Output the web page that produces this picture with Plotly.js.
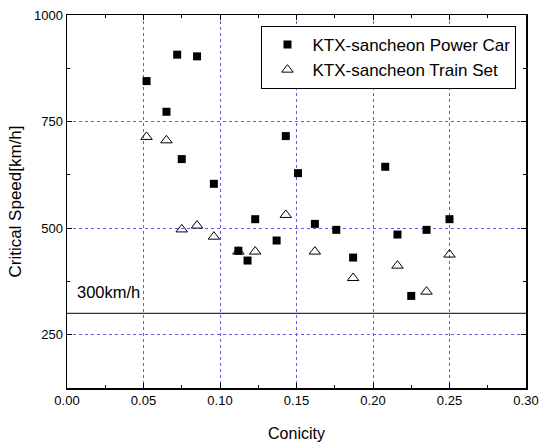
<!DOCTYPE html>
<html>
<head>
<meta charset="utf-8">
<script src="https://cdn.plot.ly/plotly-3.0.1.min.js"></script>
<style>html,body{margin:0;padding:0;background:#fff;}#chart{width:540px;height:442px;}</style>
</head>
<body>
<div id="chart"></div>
<script>
// Power car data
const powerConicity = [0.052, 0.065, 0.072, 0.075, 0.085, 0.096, 0.112, 0.118, 0.123, 0.137, 0.143, 0.151, 0.162, 0.176, 0.187, 0.208, 0.216, 0.225, 0.235, 0.250];
const powerSpeed    = [845, 773, 907, 662, 903, 604, 447, 424, 521, 471, 716, 629, 510, 496, 431, 644, 485, 341, 496, 521];
// Train set data
const trainConicity = [0.052, 0.065, 0.075, 0.085, 0.096, 0.112, 0.123, 0.143, 0.162, 0.187, 0.216, 0.235, 0.250];
const trainSpeed    = [714, 706, 497, 506, 480, 445, 445, 531, 445, 383, 412, 351, 438];
const seriesNames = ["KTX-sancheon Power Car", "KTX-sancheon Train Set"];
const limitSpeed = 300;
const limitLabel = "300km/h";
const xTitle = "Conicity";
const yTitle = "Critical Speed[km/h]";

const FONT = "'Liberation Sans', Arial, sans-serif";

const traces = [
  {x: powerConicity, y: powerSpeed, name: seriesNames[0], type: 'scatter', mode: 'markers',
   marker: {symbol: 'square', size: 8, color: '#000'}},
  {x: trainConicity, y: trainSpeed, name: seriesNames[1], type: 'scatter', mode: 'markers',
   marker: {symbol: 'triangle-up-open', size: 10, color: '#000', line: {width: 1, color: '#000'}}}
];

const gridStyle = {showgrid: true, gridcolor: '#5a5aff', gridwidth: 1, griddash: 'dot'};

const layout = {
  width: 540, height: 442,
  margin: {l: 67, r: 14, t: 15, b: 54},
  paper_bgcolor: '#fff', plot_bgcolor: '#fff',
  font: {family: FONT, color: '#000', size: 13},
  showlegend: true,
  legend: {x: 0.4237, y: 0.9705, xanchor: 'left', yanchor: 'top', bgcolor: '#fff',
           bordercolor: '#000', borderwidth: 1, font: {size: 17, family: FONT}, itemwidth: 40},
  xaxis: Object.assign({
    range: [0, 0.30], tick0: 0, dtick: 0.05, tickformat: '.2f',
    ticks: 'inside', ticklen: 5, tickwidth: 1, tickcolor: '#000',
    showline: true, linecolor: '#000', linewidth: 1.5, mirror: 'ticks', zeroline: false,
    minor: {dtick: 0.025, ticks: 'inside', ticklen: 3, tickcolor: '#000', showgrid: false},
    title: {text: xTitle, font: {size: 16, family: FONT}, standoff: 20},
    tickfont: {size: 13, family: FONT}
  }, gridStyle),
  yaxis: Object.assign({
    range: [125, 1000], tick0: 0, dtick: 250,
    ticks: 'inside', ticklen: 5, tickwidth: 1, tickcolor: '#000',
    showline: true, linecolor: '#000', linewidth: 1.5, mirror: 'ticks', zeroline: false,
    minor: {dtick: 125, ticks: 'inside', ticklen: 3, tickcolor: '#000', showgrid: false},
    title: {text: yTitle, font: {size: 17, family: FONT}, standoff: 8},
    tickfont: {size: 13, family: FONT}
  }, gridStyle),
  shapes: [{type: 'line', xref: 'paper', x0: 0, x1: 1, yref: 'y', y0: limitSpeed, y1: limitSpeed,
            line: {color: '#333', width: 1.2}}],
  annotations: [{x: 0.0052, y: limitSpeed + 50, xref: 'x', yref: 'y', text: limitLabel, showarrow: false,
                 xanchor: 'left', yanchor: 'middle', font: {size: 16.5, family: FONT}}]
};

Plotly.newPlot('chart', traces, layout, {displayModeBar: false, staticPlot: true});
</script>
</body>
</html>
